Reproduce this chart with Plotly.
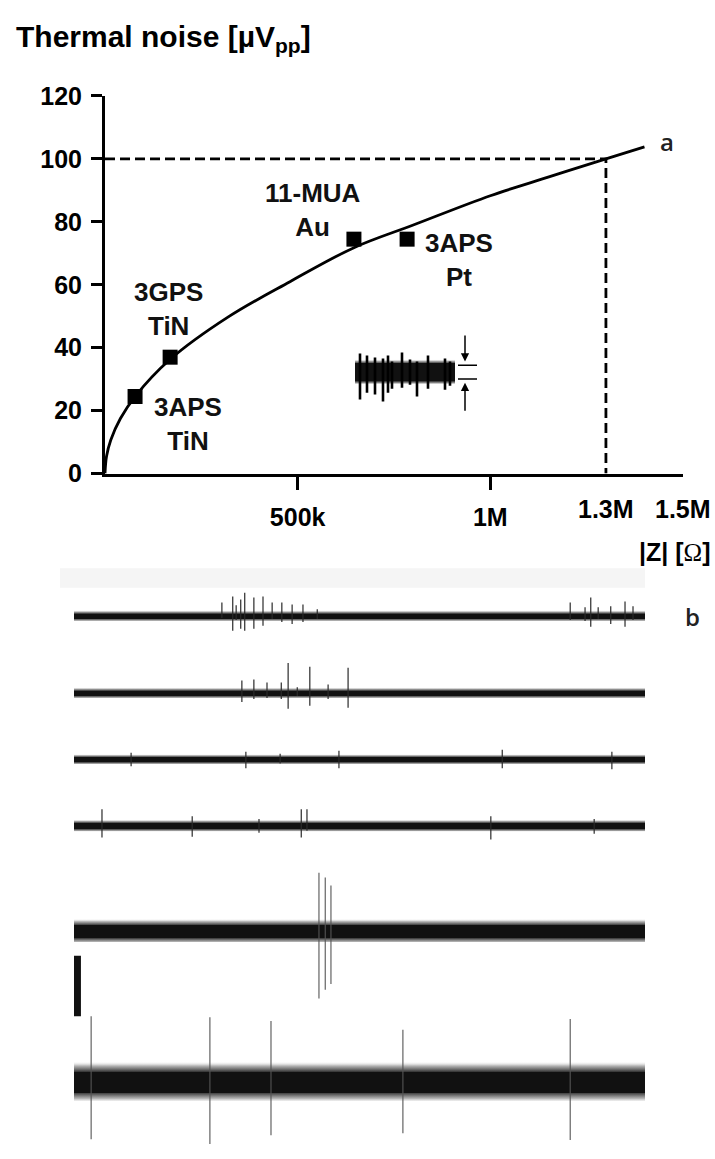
import plotly.graph_objects as go

W, H = 715, 1159
FONT = "Liberation Sans"

# ---- panel a: thermal noise versus electrode impedance ----
z_curve = [0, 0.004e6, 0.015e6, 0.04e6, 0.078e6, 0.17e6, 0.32e6, 0.48e6,
           0.646e6, 0.8e6, 1.0e6, 1.15e6, 1.3e6, 1.4e6]
noise_curve = [0, 5.5, 10.7, 17.5, 24.5, 36.4, 49.8, 61.0,
               71.8, 79.0, 88.3, 94.2, 100, 103.8]

electrode_z = [0.078e6, 0.169e6, 0.646e6, 0.784e6]
electrode_noise = [24.5, 37.0, 74.5, 74.5]
electrode_labels = ["3APS<br>TiN", "3GPS<br>TiN", "11-MUA<br>Au", "3APS<br>Pt"]
label_offsets = [(53, -27), (-2, 48), (-41, 29), (52, -21)]

noise_limit = 100          # µVpp
z_limit = 1.3e6            # Ω

x_tick_vals = [5e5, 1e6]
x_tick_text = ["500k", "1M"]
x_extra_vals = [1.3e6, 1.5e6]
x_extra_text = ["1.3M", "1.5M"]
y_tick_vals = [0, 20, 40, 60, 80, 100, 120]

# inset: example noise trace with peak-to-peak markers
inset_body = 9
inset_halo = 13
inset_spike_t = [0.05, 0.12, 0.20, 0.28, 0.33, 0.37, 0.47, 0.55, 0.62, 0.73, 0.90, 0.95]
inset_spike_up = [18, 16, 14, 13, 16, 10, 19, 12, 10, 16, 13, 10]
inset_spike_dn = [29, 22, 24, 31, 22, 18, 17, 14, 26, 18, 19, 15]
pp_top, pp_bottom = 6, -8

# ---- panel b: six recorded channels ----
chan_body = [2.5, 2.5, 2.5, 3, 6.5, 10.5]
chan_halo = [6, 6, 5.5, 6.5, 13, 21]
chan_spike_t = [
    [0.259, 0.278, 0.284, 0.292, 0.299, 0.315, 0.331, 0.347, 0.364, 0.382, 0.401,
     0.426, 0.869, 0.895, 0.905, 0.918, 0.940, 0.965, 0.979],
    [0.294, 0.315, 0.338, 0.363, 0.375, 0.391, 0.413, 0.445, 0.480],
    [0.100, 0.301, 0.361, 0.464, 0.750, 0.942],
    [0.049, 0.207, 0.324, 0.398, 0.408, 0.730, 0.911],
    [0.429, 0.440, 0.450],
    [0.030, 0.238, 0.345, 0.576, 0.869],
]
chan_spike_up = [
    [13, 19, 10, 16, 23, 18, 19, 13, 13, 11, 11, 6, 13, 8, 18, 8, 9, 14, 9],
    [12, 13, 10, 10, 30, 5, 26, 8, 25],
    [6, 7, 5, 8, 9, 7],
    [16, 9, 6, 16, 16, 9, 6],
    [58, 53, 45],
    [68, 65, 61, 52, 63],
]
chan_spike_dn = [
    [3, 16, 5, 14, 16, 14, 11, 4, 7, 9, 7, 4, 5, 6, 12, 4, 9, 12, 5],
    [10, 7, 6, 7, 17, 4, 14, 7, 16],
    [8, 10, 5, 10, 10, 11],
    [13, 12, 8, 13, 6, 15, 9],
    [71, 62, 56],
    [60, 65, 56, 54, 61],
]
scale_bar = 62

# layout geometry (pixels)
chan_center_px = [616, 695, 763, 831, 938, 1093]
chan_half_px = [45, 45, 45, 45, 95, 66]


def py(px):
    return 1 - px / H


def px_x(px):
    return px / W


def spike_xy(ts, ups, dns):
    xs, ys = [], []
    for t, u, d in zip(ts, ups, dns):
        xs += [t, t, None]
        ys += [u, -d, None]
    return xs, ys


def noise_band(body, halo, xa, ya, x1=1.0):
    """Filled band with a solid core and a soft fading fringe."""
    lo = (halo - body) / (2 * halo)
    hi = (halo + body) / (2 * halo)
    mid_lo = lo * 0.45
    mid_hi = 1 - mid_lo
    scale = [[0, "rgba(255,255,255,0)"], [mid_lo, "rgba(40,40,40,0.35)"],
             [lo, "rgba(20,20,20,0.85)"], [lo + 0.0001, "#111111"],
             [hi - 0.0001, "#111111"], [hi, "rgba(20,20,20,0.85)"],
             [mid_hi, "rgba(40,40,40,0.35)"], [1, "rgba(255,255,255,0)"]]
    return go.Scatter(x=[0, x1, x1, 0, 0], y=[halo, halo, -halo, -halo, halo], fill="toself",
                      fillgradient=dict(type="vertical", colorscale=scale, start=-halo, stop=halo),
                      line=dict(width=0), mode="lines", xaxis=xa, yaxis=ya, hoverinfo="skip")


fig = go.Figure()

# sqrt-like noise curve
fig.add_trace(go.Scatter(x=z_curve, y=noise_curve, mode="lines",
                         line=dict(color="black", width=2.8, shape="spline", smoothing=1.0),
                         hoverinfo="skip"))
# 100 µV / 1.3 MΩ guide
fig.add_trace(go.Scatter(x=[0, z_limit, z_limit], y=[noise_limit, noise_limit, 0], mode="lines",
                         line=dict(color="black", width=2.8, dash="10px,5px"), hoverinfo="skip"))
# electrodes
fig.add_trace(go.Scatter(x=electrode_z, y=electrode_noise, mode="markers",
                         marker=dict(symbol="square", size=15, color="black"),
                         cliponaxis=False))

# inset trace
fig.add_trace(noise_band(inset_body, inset_halo, "x2", "y2"))
sx, sy = spike_xy(inset_spike_t, inset_spike_up, inset_spike_dn)
fig.add_trace(go.Scatter(x=sx, y=sy, mode="lines", line=dict(color="black", width=2.6),
                         xaxis="x2", yaxis="y2", hoverinfo="skip"))
fig.add_trace(go.Scatter(x=[1.03, 1.22, None, 1.03, 1.22],
                         y=[pp_top, pp_top, None, pp_bottom, pp_bottom], mode="lines",
                         line=dict(color="black", width=1.6), xaxis="x2", yaxis="y2",
                         hoverinfo="skip"))

# recorded channels
for i in range(6):
    xa, ya = f"x{i + 3}", f"y{i + 3}"
    fig.add_trace(noise_band(chan_body[i], chan_halo[i], xa, ya))
    sx, sy = spike_xy(chan_spike_t[i], chan_spike_up[i], chan_spike_dn[i])
    fig.add_trace(go.Scatter(x=sx, y=sy, mode="lines",
                             line=dict(color="#555555" if i >= 4 else "#2a2a2a",
                                       width=1.1 if i >= 4 else 1.2),
                             xaxis=xa, yaxis=ya, hoverinfo="skip"))

# vertical scale bar beside channel 5
fig.add_trace(go.Scatter(x=[0.006, 0.006], y=[-27, -27 - scale_bar], mode="lines",
                         line=dict(color="#111111", width=7), xaxis="x7", yaxis="y7",
                         hoverinfo="skip"))

bold = dict(family=FONT, size=25, color="black", weight="bold")

layout = dict(
    width=W, height=H, autosize=False, showlegend=False,
    margin=dict(l=0, r=0, t=0, b=0),
    paper_bgcolor="white", plot_bgcolor="rgba(0,0,0,0)",
    xaxis=dict(domain=[px_x(105), px_x(683)], range=[0, 1.5e6], showgrid=False, zeroline=False,
               showline=True, linecolor="black", linewidth=3, ticks="outside", ticklen=13,
               tickwidth=3, tickcolor="black", tickvals=x_tick_vals, ticktext=x_tick_text,
               tickfont=bold, ticklabelstandoff=6, anchor="y"),
    yaxis=dict(domain=[py(471), py(84)], range=[0, 120], showgrid=False, zeroline=False,
               showline=True, linecolor="black", linewidth=3, ticks="outside", ticklen=11,
               tickwidth=3, tickcolor="black", tickvals=y_tick_vals, tickfont=bold,
               ticklabelstandoff=4, anchor="x"),
    xaxis2=dict(domain=[px_x(355), px_x(480)], range=[0, 1.25], visible=False, anchor="y2"),
    yaxis2=dict(domain=[py(412), py(320)], range=[-46, 46], visible=False, anchor="x2"),
)
for i in range(6):
    c, h = chan_center_px[i], chan_half_px[i]
    layout[f"xaxis{i + 3}"] = dict(domain=[px_x(74), px_x(645)], range=[0, 1], visible=False,
                                   anchor=f"y{i + 3}")
    layout[f"yaxis{i + 3}"] = dict(domain=[max(0, py(c + h)), py(c - h)], range=[-h, h],
                                   visible=False, anchor=f"x{i + 3}")
fig.update_layout(**layout)

ann = []
ann.append(dict(text="Thermal noise [µV<sub>pp</sub>]", x=px_x(14), y=py(25), xref="paper",
                yref="paper", xanchor="left", yanchor="middle", showarrow=False,
                font=dict(family=FONT, size=30, color="black", weight="bold")))
for xv, tx in zip(x_extra_vals, x_extra_text):
    ann.append(dict(text=tx, x=xv, y=0, xref="x", yref="y", xanchor="center", yanchor="middle",
                    yshift=-35, showarrow=False, font=bold))
ann.append(dict(text="|Z| [<span style='font-family:Liberation Serif;font-weight:normal'>Ω</span>]",
                x=px_x(712), y=py(551), xref="paper", yref="paper", xanchor="right",
                yanchor="middle", showarrow=False, font=bold))
for xv, yv, tx, (dx, dy) in zip(electrode_z, electrode_noise, electrode_labels, label_offsets):
    ann.append(dict(text=tx, x=xv, y=yv, xref="x", yref="y", xshift=dx, yshift=dy,
                    xanchor="center", yanchor="middle", showarrow=False,
                    font=dict(family=FONT, size=26, color="#111111", weight="bold")))
# peak-to-peak arrows in the inset
ann.append(dict(x=1.10, y=pp_top + 4, ax=1.10, ay=38, xref="x2", yref="y2", axref="x2", ayref="y2",
                text="", showarrow=True, arrowhead=2, arrowsize=1.1, arrowwidth=1.5,
                arrowcolor="black"))
ann.append(dict(x=1.10, y=pp_bottom - 4, ax=1.10, ay=-42, xref="x2", yref="y2", axref="x2",
                ayref="y2", text="", showarrow=True, arrowhead=2, arrowsize=1.1, arrowwidth=1.5,
                arrowcolor="black"))
for letter, lx, ly in [("a", 667, 131), ("b", 692, 617)]:
    ann.append(dict(text=letter, x=px_x(lx), y=py(ly), xref="paper", yref="paper",
                    xanchor="center", yanchor="middle", showarrow=False,
                    font=dict(family="Open Sans", size=24, color="#222222", weight=600)))
fig.update_layout(annotations=ann)

fig.add_shape(type="rect", xref="paper", yref="paper", x0=px_x(60), x1=px_x(645),
              y0=py(588), y1=py(568), fillcolor="#f5f5f5", line=dict(width=0), layer="below")

fig.write_html("out.html")
